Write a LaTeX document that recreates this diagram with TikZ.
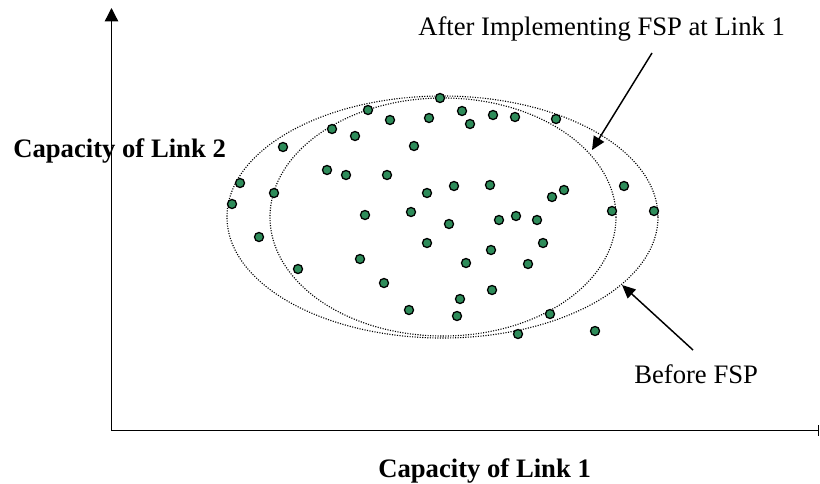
\documentclass[tikz,border=0pt]{standalone}
\usepackage{fontspec}
\setmainfont{Liberation Serif}
\usetikzlibrary{arrows.meta}
\definecolor{dotgreen}{RGB}{46,140,90}
\begin{document}
\begin{tikzpicture}[x=0.75pt,y=-0.75pt,
  lbl/.style={inner sep=0pt,font=\fontsize{20}{24}\selectfont},
  blbl/.style={lbl,font=\fontsize{20}{24}\selectfont\bfseries},
  dot/.style={circle,draw=black,fill=dotgreen,line width=0.95pt,minimum size=6.8pt,inner sep=0pt},
  bound/.style={dash pattern=on 0.8pt off 1.1pt,line width=0.85pt},
  pointer/.style={line width=1.1pt,-{Triangle[length=10pt,width=9pt]}},
  axis/.style={line width=1pt}]
\useasboundingbox (0,0) rectangle (820,483);
% axes
\coordinate (O) at (111.5,430.5);
\coordinate (ytop) at (111.5,8);
\coordinate (xend) at (819,430.5);
\draw[axis,-{Triangle[length=10pt,width=10pt]}] (O) -- (ytop);
\draw[axis,-{Bar[width=8pt]}] (O) -- (xend);
% labels
\node[blbl,anchor=base west] (ylab) at (13,157) {Capacity of Link 2};
\node[blbl,anchor=base west] (xlab) at (378,477) {Capacity of Link 1};
\node[lbl,anchor=base west] (after) at (418,35) {After Implementing FSP at Link 1};
\node[lbl,anchor=base west] (before) at (634,383) {Before FSP};
% regions
\draw[bound] (442.5,217) ellipse [x radius=215.5,y radius=121];
\draw[bound] (443,217) ellipse [x radius=173,y radius=119];
% dots
\foreach \i/\p in {1/{232,204},2/{240,183},3/{259,237},4/{274,193},5/{283,147},
  6/{298,269},7/{332,129},8/{327,170},9/{346,175},10/{355,136},11/{368,110},
  12/{365,215},13/{360,259},14/{384,283},15/{387,175},16/{390,120},17/{409,310},
  18/{411,212},19/{414,146},20/{427,193},21/{427,243},22/{429,118},23/{440,98},
  24/{449,224},25/{454,186},26/{460,299},27/{457,316},28/{462,111},29/{466,263},
  30/{470,124},31/{490,185},32/{491,250},33/{492,290},34/{493,115},35/{499,220},
  36/{516,216},37/{515,117},38/{518,334},39/{528,264},40/{537,220},41/{543,243},
  42/{552,197},43/{550,314},44/{556,119},45/{564,190},46/{595,331},47/{612,211},
  48/{624,186},49/{654,211}}
  \node[dot] (d\i) at (\p) {};
% pointers
\coordinate (a1) at (652,53);
\coordinate (a2) at (592,150);
\coordinate (b1) at (693,350);
\coordinate (b2) at (622,285);
\draw[pointer] (a1) -- (a2);
\draw[pointer] (b1) -- (b2);
\end{tikzpicture}
\end{document}
